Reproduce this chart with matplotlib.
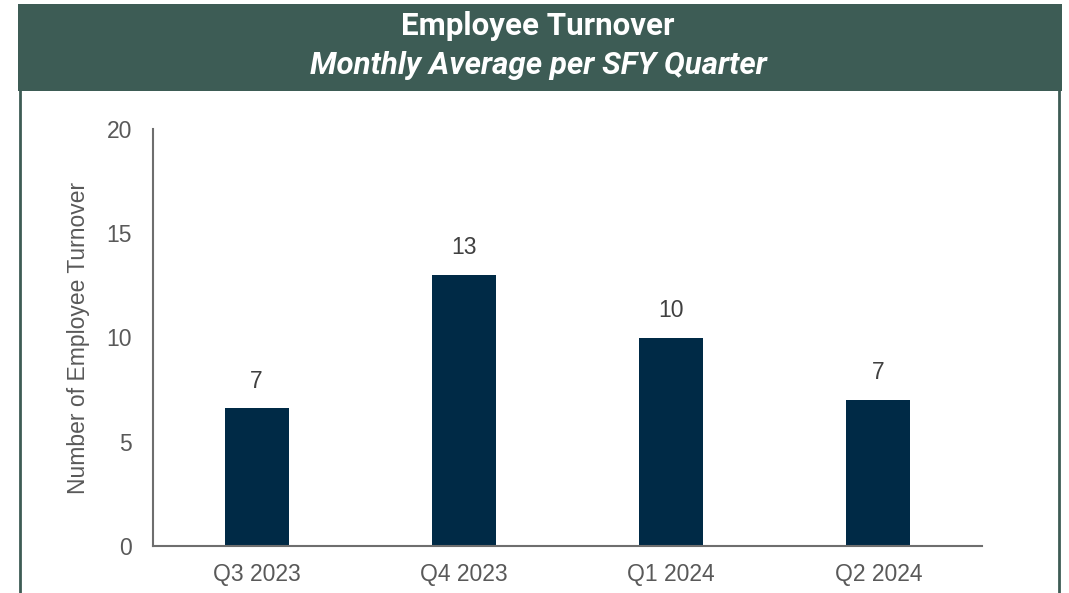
import matplotlib
matplotlib.use("Agg")
import matplotlib.pyplot as plt
from matplotlib.patches import Rectangle
from matplotlib.lines import Line2D

# Chart data
quarters = ["Q3 2023", "Q4 2023", "Q1 2024", "Q2 2024"]
turnover = [6.6, 13.0, 10.0, 7.0]
value_labels = ["7", "13", "10", "7"]

header_green = "#3d5c55"
bar_navy = "#002a46"
gray_text = "#595959"

plt.rcParams["font.family"] = ["Liberation Sans", "DejaVu Sans"]

fig = plt.figure(figsize=(10.69, 5.93), dpi=100)
W, H = 1069, 593

# Header band and frame
fig.patches.append(Rectangle((18 / W, 1 - 91 / H), (1062 - 18) / W, (91 - 4) / H,
                             transform=fig.transFigure, facecolor=header_green,
                             edgecolor="none", zorder=0))
for xpix in (20, 1059):
    fig.lines.append(Line2D([xpix / W, xpix / W], [0, 1 - 91 / H],
                            transform=fig.transFigure, color=header_green, lw=2))

fig.text(538 / W, 1 - 26 / H, "Employee Turnover", ha="center", va="center",
         color="white", fontsize=22.5, fontweight="bold", family=["Roboto", "DejaVu Sans"])
fig.text(538 / W, 1 - 65 / H, "Monthly Average per SFY Quarter", ha="center", va="center",
         color="white", fontsize=22.5, fontweight="bold", style="italic",
         family=["Roboto", "DejaVu Sans"])

ax = fig.add_axes([153 / W, 1 - 546 / H, (982 - 153) / W, (546 - 129) / H])
x = range(len(quarters))
bars = ax.bar(x, turnover, width=0.31, color=bar_navy, zorder=2)
for b, lab in zip(bars, value_labels):
    ax.text(b.get_x() + b.get_width() / 2, b.get_height() + 0.75, lab,
            ha="center", va="bottom", fontsize=16.5, color="#404040")

ax.set_xlim(-0.5, 3.5)
ax.set_ylim(0, 20)
ax.set_yticks([0, 5, 10, 15, 20])
ax.set_xticks(list(x))
ax.set_xticklabels(quarters)
ax.tick_params(axis="both", length=0, labelsize=16.5, labelcolor=gray_text)
ax.tick_params(axis="y", pad=15)
ax.tick_params(axis="x", pad=12)
for s in ("top", "right"):
    ax.spines[s].set_visible(False)
for s in ("left", "bottom"):
    ax.spines[s].set_color("#6e6e6e")
    ax.spines[s].set_linewidth(1.5)
ax.set_ylabel("Number of Employee Turnover", fontsize=16.5, color=gray_text, labelpad=12)
ax.set_facecolor("none")

fig.savefig("out.png", dpi=100)
